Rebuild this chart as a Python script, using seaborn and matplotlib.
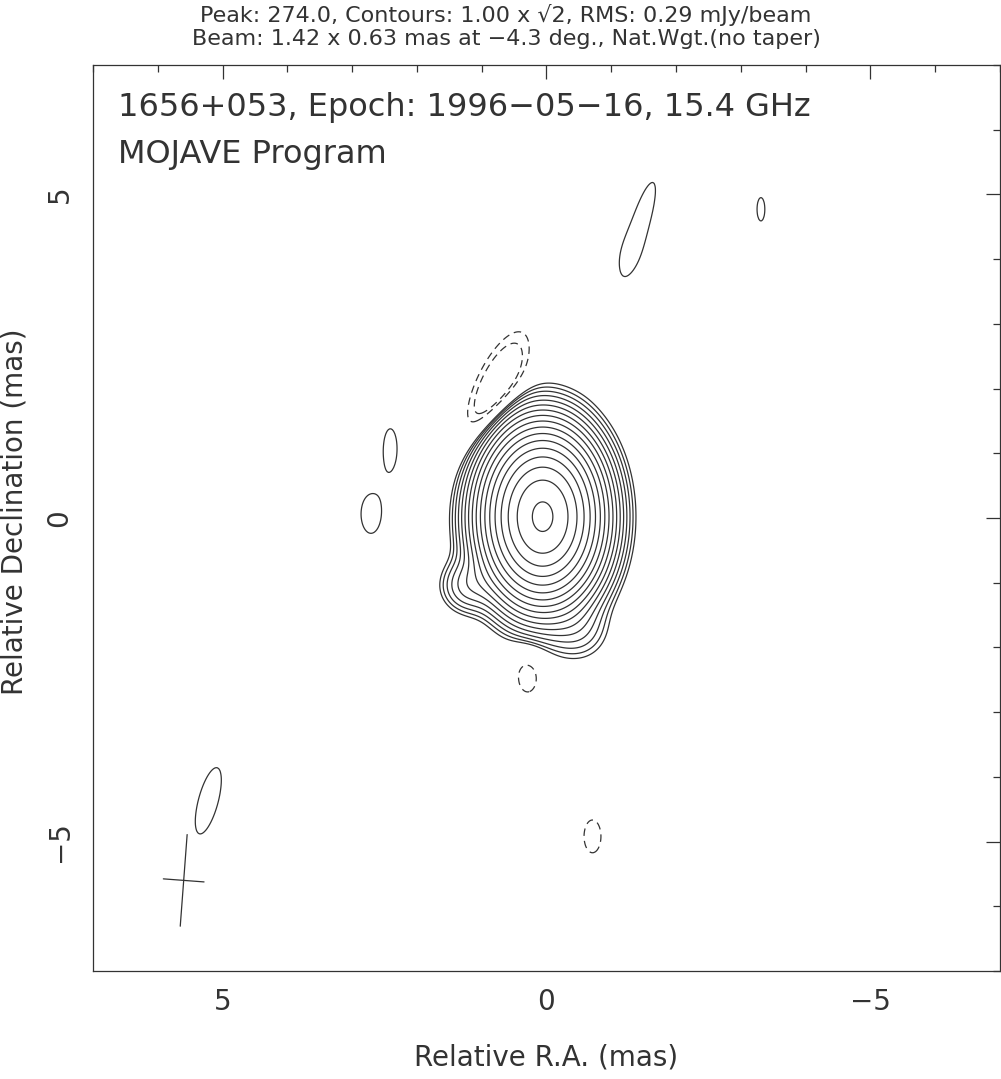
import matplotlib

matplotlib.use('Agg')
import matplotlib.pyplot as plt
import numpy as np
import pandas as pd
import seaborn as sns

# map header info
peak_flux = 274.0
base_level = 1.00
rms = 0.29
beam_major = 1.42
beam_minor = 0.63
beam_pa = -4.3
beam_center = (5.6, -5.6)

# components (RA mas, Dec mas, peak mJy/beam, sigma major, sigma minor, PA deg)
comp_ra = [0.06, 1.22, -0.5, 0.78, -1.45, -1.22, -3.31, 2.41, 2.71, 5.22, 0.29, -0.71]
comp_dec = [0.02, -1.05, -1.75, 1.95, 4.55, 4.05, 4.77, 1.08, 0.06, -4.37, -2.41, -4.92]
comp_peak = [274.0, 4.0, 2.0, -2.8, 1.22, 0.22, 1.2, 1.3, 1.3, 1.3, -1.35, -1.3]
comp_smaj = [0.62, 0.25, 0.30, 0.70, 1.05, 0.30, 0.30, 0.41, 0.41, 0.73, 0.37, 0.35]
comp_smin = [0.43, 0.25, 0.30, 0.25, 0.21, 0.25, 0.10, 0.14, 0.21, 0.21, 0.21, 0.18]
comp_pa = [0, 0, 0, -24, -17, 0, 0, 0, 0, -15, 0, 0]

comps = pd.DataFrame({'ra': comp_ra, 'dec': comp_dec, 'peak': comp_peak,
                      'smaj': comp_smaj, 'smin': comp_smin, 'pa': comp_pa})

ra = np.linspace(-7, 7, 701)
dec = np.linspace(-7, 7, 701)
RA, DEC = np.meshgrid(ra, dec)
image = np.zeros_like(RA)
for _, c in comps.iterrows():
    th = np.deg2rad(c['pa'])
    dx = RA - c['ra']
    dy = DEC - c['dec']
    a = dx * np.sin(th) + dy * np.cos(th)
    b = dx * np.cos(th) - dy * np.sin(th)
    image += c['peak'] * np.exp(-a ** 2 / (2 * c['smaj'] ** 2) - b ** 2 / (2 * c['smin'] ** 2))

n_levels = int(np.floor(2 * np.log2(peak_flux / base_level)))
pos_levels = base_level * np.sqrt(2) ** np.arange(n_levels + 1)
neg_levels = [-base_level * np.sqrt(2), -base_level]

sns.set_theme(style='white')
plt.rcParams['font.family'] = ['DejaVu Sans']
ink = '#333333'

fig = plt.figure(figsize=(10.01, 10.79), dpi=100)
ax = fig.add_axes([0.0929, 0.1001, 0.9061, 0.8397])

ax.contour(RA, DEC, image, levels=pos_levels, colors=ink, linewidths=0.9, linestyles='solid')
ax.contour(RA, DEC, image, levels=neg_levels, colors=ink, linewidths=0.9, linestyles=[(0, (6, 4))])

# beam cross
th = np.deg2rad(beam_pa)
cross = pd.DataFrame({
    'ra': [beam_center[0] - beam_major / 2 * np.sin(th), beam_center[0] + beam_major / 2 * np.sin(th),
           beam_center[0] - beam_minor / 2 * np.cos(th), beam_center[0] + beam_minor / 2 * np.cos(th)],
    'dec': [beam_center[1] - beam_major / 2 * np.cos(th), beam_center[1] + beam_major / 2 * np.cos(th),
            beam_center[1] + beam_minor / 2 * np.sin(th), beam_center[1] - beam_minor / 2 * np.sin(th)],
    'arm': ['major', 'major', 'minor', 'minor'],
})
for arm, grp in cross.groupby('arm'):
    sns.lineplot(data=grp, x='ra', y='dec', sort=False, color=ink, linewidth=0.9, ax=ax)

ax.set_xlim(7, -7)
ax.set_ylim(-7, 7)
ax.set_xticks([5, 0, -5])
ax.set_yticks([-5, 0, 5])
ax.set_xticks(np.arange(-7, 8), minor=True)
ax.set_yticks(np.arange(-7, 8), minor=True)
ax.tick_params(which='both', direction='in', top=True, right=True, color=ink, width=0.9,
               labelsize=20, labelcolor=ink)
ax.tick_params(which='major', length=10)
ax.tick_params(which='minor', length=5)
ax.tick_params(axis='x', pad=12)
ax.tick_params(axis='y', pad=14)
for lab in ax.get_yticklabels():
    lab.set_rotation(90)
    lab.set_va('center')
for sp in ax.spines.values():
    sp.set_color(ink)
    sp.set_linewidth(0.9)

ax.set_xlabel('Relative R.A. (mas)', fontsize=20, color=ink)
ax.set_ylabel('Relative Declination (mas)', fontsize=20, color=ink)
ax.xaxis.set_label_coords(0.5, -0.096)
ax.yaxis.set_label_coords(-0.087, 0.507)
ax.xaxis.label.set_va('center')
ax.yaxis.label.set_va('center')

ax.text(0.0276, 0.9525, '1656+053, Epoch: 1996\u221205\u221216, 15.4 GHz', transform=ax.transAxes,
        fontsize=23, color=ink, va='center', ha='left')
ax.text(0.0276, 0.9007, 'MOJAVE Program', transform=ax.transAxes,
        fontsize=23, color=ink, va='center', ha='left')

fig.text(0.5055, 0.9865, f'Peak: {peak_flux:.1f}, Contours: {base_level:.2f} x \u221a2, RMS: {rms:.2f} mJy/beam',
         fontsize=16, color=ink, va='center', ha='center')
fig.text(0.5055, 0.9635, f'Beam: {beam_major:.2f} x {beam_minor:.2f} mas at \u2212{abs(beam_pa):.1f} deg., Nat.Wgt.(no taper)',
         fontsize=16, color=ink, va='center', ha='center')

fig.savefig('out.png', dpi=100, facecolor='white')
